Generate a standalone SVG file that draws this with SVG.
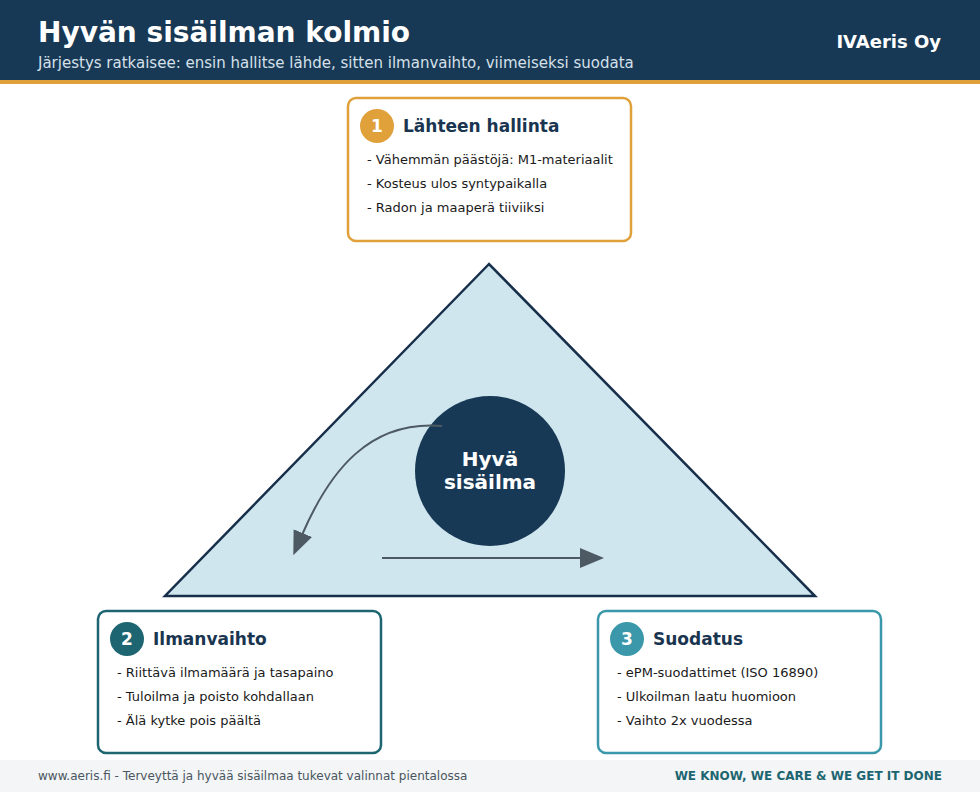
<svg xmlns="http://www.w3.org/2000/svg" width="980" height="792" viewBox="0 0 980 792">
<style>
text{font-family:"DejaVu Sans",sans-serif}
.box{fill:#fff;stroke-width:2.5}
.ttl{font-size:17px;font-weight:bold;fill:#1a3550}
.num{font-size:17px;font-weight:bold;fill:#fff}
.it{font-size:13px;fill:#1a1a1a}
</style>
<defs><marker id="ah" viewBox="0 0 10 10" refX="2" refY="5" markerWidth="8" markerHeight="8" markerUnits="userSpaceOnUse" orient="auto"><path d="M0,0L10,5L0,10z" fill="#4d5a63"/></marker>
<marker id="a" viewBox="0 0 24 20" refX="2" refY="10" markerWidth="24" markerHeight="20" markerUnits="userSpaceOnUse" orient="auto"><path d="M0,0L24,10L0,20z" fill="#4d5a63"/></marker></defs>
<rect width="980" height="792" fill="#fff"/>
<rect width="980" height="80" fill="#183955"/>
<rect y="80" width="980" height="4" fill="#e0a03a"/>
<text x="38" y="42" font-size="28" font-weight="bold" fill="#fff">Hyvän sisäilman kolmio</text>
<text x="38" y="68" font-size="15" fill="#d5e0ea">Järjestys ratkaisee: ensin hallitse lähde, sitten ilmanvaihto, viimeiseksi suodata</text>
<text x="941" y="48" font-size="18" font-weight="bold" fill="#fff" text-anchor="end">IVAeris Oy</text>
<g id="triangle"><path d="M489,264L165,596L815,596Z" fill="#d0e6ee" stroke="#172f4a" stroke-width="2.5"/></g>
<g id="center"><circle cx="490" cy="471" r="75" fill="#183955"/>
<text x="490" y="466" font-size="20" font-weight="bold" fill="#fff" text-anchor="middle">Hyvä</text>
<text x="490" y="489" font-size="20" font-weight="bold" fill="#fff" text-anchor="middle">sisäilma</text></g>
<g id="connectors" fill="none" stroke="#4d5a63" stroke-width="2">
<path d="M442,426C370,420 330,470 302,535" marker-end="url(#a)"/>
<path d="M382,558L582,558" marker-end="url(#a)"/>
</g>
<g id="n1"><rect class="box" x="348" y="98" width="283" height="143" rx="8" stroke="#e0a03a"/>
<circle cx="377" cy="126" r="17" fill="#e0a03a"/><text class="num" x="377" y="132" text-anchor="middle">1</text>
<text class="ttl" x="403" y="132">Lähteen hallinta</text>
<text class="it" x="367" y="164">- Vähemmän päästöjä: M1-materiaalit</text>
<text class="it" x="367" y="188">- Kosteus ulos syntypaikalla</text>
<text class="it" x="367" y="212">- Radon ja maaperä tiiviiksi</text></g>
<g id="n2"><rect class="box" x="98" y="611" width="283" height="142" rx="8" stroke="#1d6570"/>
<circle cx="127" cy="639" r="17" fill="#1d6570"/><text class="num" x="127" y="645" text-anchor="middle">2</text>
<text class="ttl" x="153" y="645">Ilmanvaihto</text>
<text class="it" x="117" y="677">- Riittävä ilmamäärä ja tasapaino</text>
<text class="it" x="117" y="701">- Tuloilma ja poisto kohdallaan</text>
<text class="it" x="117" y="725">- Älä kytke pois päältä</text></g>
<g id="n3"><rect class="box" x="598" y="611" width="283" height="142" rx="8" stroke="#3a98aa"/>
<circle cx="627" cy="639" r="17" fill="#3a98aa"/><text class="num" x="627" y="645" text-anchor="middle">3</text>
<text class="ttl" x="653" y="645">Suodatus</text>
<text class="it" x="617" y="677">- ePM-suodattimet (ISO 16890)</text>
<text class="it" x="617" y="701">- Ulkoilman laatu huomioon</text>
<text class="it" x="617" y="725">- Vaihto 2x vuodessa</text></g>
<rect y="760" width="980" height="32" fill="#f3f5f7"/>
<text x="38" y="780" font-size="12" fill="#4a5660">www.aeris.fi - Terveyttä ja hyvää sisäilmaa tukevat valinnat pientalossa</text>
<text x="942" y="780" font-size="12" font-weight="bold" fill="#1d6570" text-anchor="end">WE KNOW, WE CARE &amp; WE GET IT DONE</text>
</svg>
